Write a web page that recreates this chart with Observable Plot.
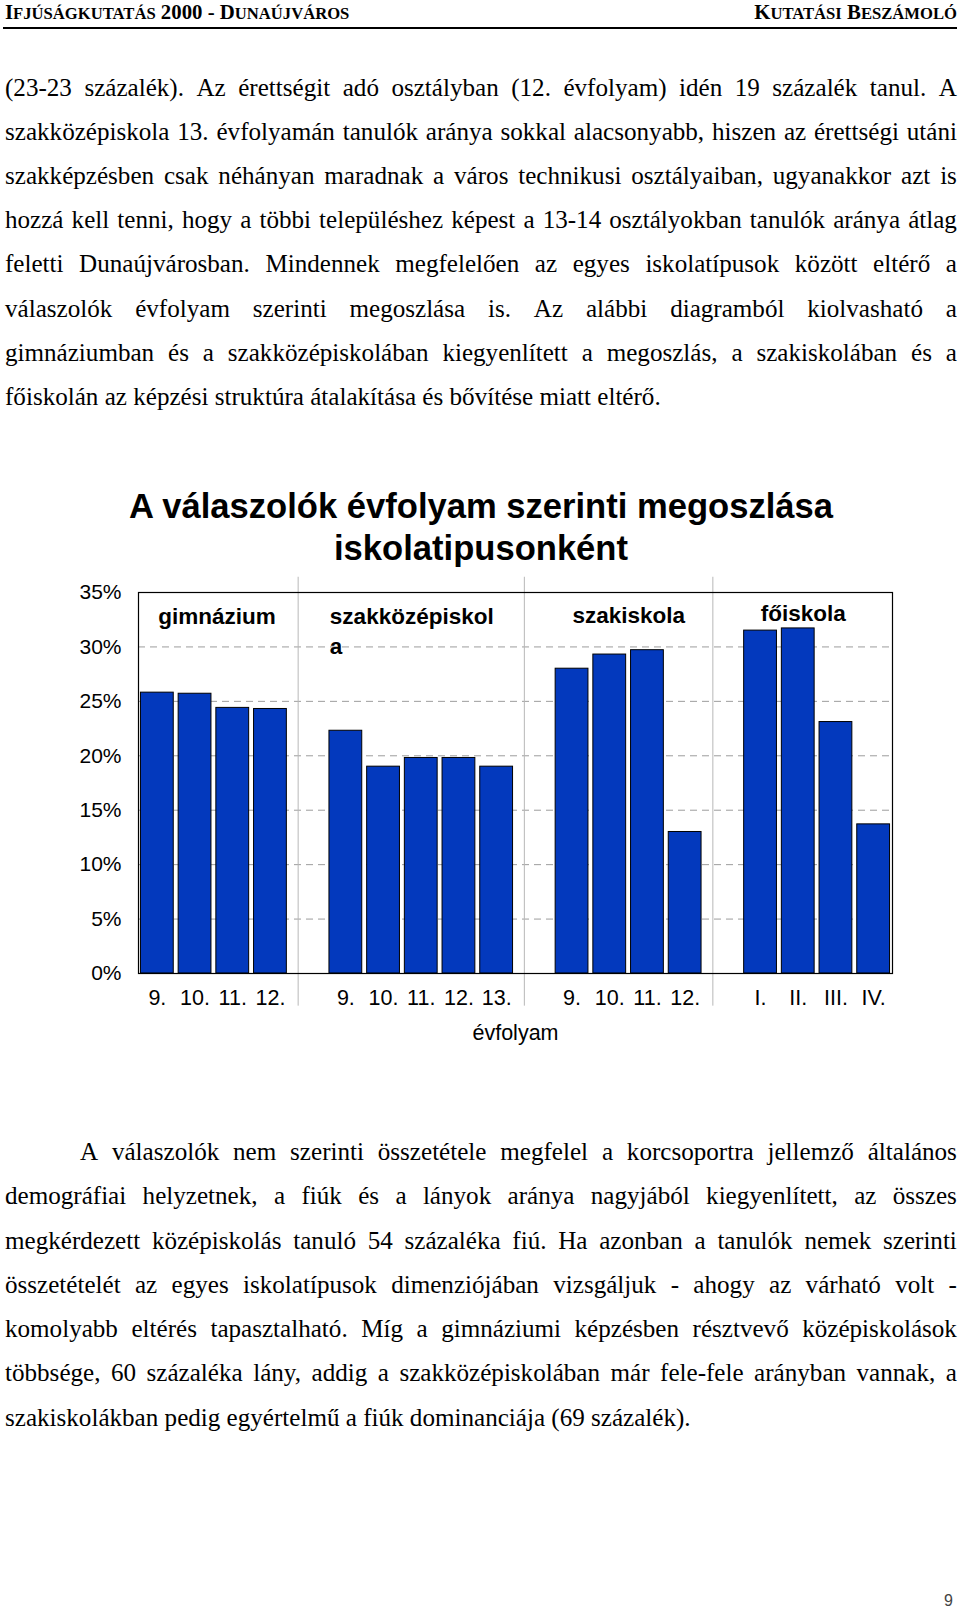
<!DOCTYPE html>
<html lang="hu">
<head>
<meta charset="utf-8">
<script src="https://cdn.jsdelivr.net/npm/d3@7"></script>
<script src="https://cdn.jsdelivr.net/npm/@observablehq/plot@0.6"></script>
<style>
  html, body { margin: 0; padding: 0; background: #fff; }
  #page { position: relative; width: 960px; height: 1613px; overflow: hidden; background: #fff; color: #000; }
  .hdr { position: absolute; top: 2px; font-family: "Liberation Serif", "Times New Roman", serif; font-weight: bold; font-size: 20.8px; line-height: 20px; white-space: nowrap; }
  .sc { font-size: 0.8em; }
  .rule { position: absolute; left: 3px; width: 954px; top: 26.5px; height: 2.5px; background: #000; }
  .ln { position: absolute; height: 44px; line-height: 44px; font-family: "Liberation Serif", "Times New Roman", serif; font-size: 25.1px; white-space: nowrap; }
  .just { display: flex; justify-content: space-between; }
  .title { position: absolute; z-index: 2; left: 0; width: 962px; text-align: center; font-family: "Liberation Sans", Arial, sans-serif; font-weight: bold; font-size: 34.6px; line-height: 41.5px; }
  #chart { position: absolute; z-index: 1; left: 0; top: 560px; }
  .pnum { position: absolute; left: 944px; top: 1592px; font-family: "Liberation Sans", Arial, sans-serif; font-size: 16px; color: #444; }
</style>
</head>
<body>
<div id="page">
  <div class="hdr" style="left:5px">I<span class="sc">FJÚSÁGKUTATÁS</span> 2000 - D<span class="sc">UNAÚJVÁROS</span></div>
  <div class="hdr" style="right:3px">K<span class="sc">UTATÁSI</span> B<span class="sc">ESZÁMOLÓ</span></div>
  <div class="rule"></div>
  <div id="para1"></div>
  <div class="title" style="top:486px">A válaszolók évfolyam szerinti megoszlása<br>iskolatipusonként</div>
  <div id="chart"></div>
  <div id="para2"></div>
  <div class="pnum">9</div>
</div>
<script>
// ---- Chart data ----
const schoolTypes = ["gimnázium", "szakközépiskola", "szakiskola", "főiskola"];
const schoolTypeTitles = ["gimnázium", "szakközépiskol\na", "szakiskola", "főiskola"];
const gimnaziumGrades = ["9.", "10.", "11.", "12."];
const szakkozepGrades = ["9.", "10.", "11.", "12.", "13."];
const szakiskolaGrades = ["9.", "10.", "11.", "12."];
const foiskolaYears = ["I.", "II.", "III.", "IV."];
const gimnaziumValues = [25.8, 25.7, 24.4, 24.3];
const szakkozepValues = [22.3, 19.0, 19.8, 19.8, 19.0];
const szakiskolaValues = [28.0, 29.3, 29.7, 13.0];
const foiskolaValues = [31.5, 31.7, 23.1, 13.7];
const yTicks = [0, 5, 10, 15, 20, 25, 30, 35];
const gridTicks = [5, 10, 15, 20, 25, 30];
const axisTitle = "évfolyam";

// ---- Text data ----
const para1Lines = [
  "(23-23 százalék). Az érettségit adó osztályban (12. évfolyam) idén 19 százalék tanul. A",
  "szakközépiskola 13. évfolyamán tanulók aránya sokkal alacsonyabb, hiszen az érettségi utáni",
  "szakképzésben csak néhányan maradnak a város technikusi osztályaiban, ugyanakkor azt is",
  "hozzá kell tenni, hogy a többi településhez képest a 13-14 osztályokban tanulók aránya átlag",
  "feletti Dunaújvárosban. Mindennek megfelelően az egyes iskolatípusok között eltérő a",
  "válaszolók évfolyam szerinti megoszlása is. Az alábbi diagramból kiolvasható a",
  "gimnáziumban és a szakközépiskolában kiegyenlített a megoszlás, a szakiskolában és a",
  "főiskolán az képzési struktúra átalakítása és bővítése miatt eltérő."
];
const para2Lines = [
  "A válaszolók nem szerinti összetétele megfelel a korcsoportra jellemző általános",
  "demográfiai helyzetnek, a fiúk és a lányok aránya nagyjából kiegyenlített, az összes",
  "megkérdezett középiskolás tanuló 54 százaléka fiú. Ha azonban a tanulók nemek szerinti",
  "összetételét az egyes iskolatípusok dimenziójában vizsgáljuk - ahogy az várható volt -",
  "komolyabb eltérés tapasztalható. Míg a gimnáziumi képzésben résztvevő középiskolások",
  "többsége, 60 százaléka lány, addig a szakközépiskolában már fele-fele arányban vannak, a",
  "szakiskolákban pedig egyértelmű a fiúk dominanciája (69 százalék)."
];

function renderParagraph(container, lines, firstTop, step, indent) {
  lines.forEach((line, i) => {
    const div = document.createElement("div");
    div.className = "ln";
    const left = i === 0 ? indent : 5;
    div.style.left = left + "px";
    div.style.top = (firstTop + i * step) + "px";
    if (i < lines.length - 1) {
      div.classList.add("just");
      div.style.width = (957 - left) + "px";
      line.split(" ").forEach(w => {
        const s = document.createElement("span");
        s.textContent = w;
        div.appendChild(s);
      });
    } else {
      div.textContent = line;
    }
    container.appendChild(div);
  });
}
renderParagraph(document.getElementById("para1"), para1Lines, 65.5, 44.24, 5);
renderParagraph(document.getElementById("para2"), para2Lines, 1130, 44.25, 80);

// ---- Build chart rows ----
const groupGrades = [gimnaziumGrades, szakkozepGrades, szakiskolaGrades, foiskolaYears];
const groupValues = [gimnaziumValues, szakkozepValues, szakiskolaValues, foiskolaValues];
const rows = [];
const domain = [];
const gapKeys = [];
const labelOf = new Map();
schoolTypes.forEach((type, i) => {
  groupGrades[i].forEach((g, j) => {
    const key = type + "|" + g;
    rows.push({key, type, grade: g, value: groupValues[i][j]});
    domain.push(key);
    labelOf.set(key, g);
  });
  if (i < schoolTypes.length - 1) {
    const gk = "gap" + i;
    domain.push(gk);
    gapKeys.push(gk);
  }
});
const keyOf = (i, j) => schoolTypes[i] + "|" + groupGrades[i][j];

const labelFont = {fontSize: 22.5, fontWeight: "bold", fill: "black", frameAnchor: "top"};

const chart = Plot.plot({
  width: 960,
  height: 500,
  marginLeft: 138,
  marginRight: 68,
  marginTop: 32,
  marginBottom: 87,
  style: {fontFamily: "'Liberation Sans', Arial, sans-serif", background: "transparent", color: "black", overflow: "visible"},
  x: {type: "band", domain, paddingInner: 0.13, paddingOuter: 0.065, round: false},
  y: {domain: [0, 35]},
  marks: [
    Plot.ruleY(gridTicks, {stroke: "#9c9c9c", strokeWidth: 1, strokeDasharray: "7,5"}),
    Plot.ruleX(gapKeys, {x: d => d, y1: -3, y2: 36.4, stroke: "#b8b8b8", strokeWidth: 1, dx: -10}),
    Plot.barY(rows, {x: "key", y: "value", fill: "#0339BD", stroke: "black", strokeWidth: 1}),
    Plot.frame({stroke: "black", strokeWidth: 1.2}),
    Plot.axisY({ticks: yTicks, tickFormat: d => d + "%", tickSize: 0, tickPadding: 17, fontSize: 21, label: null}),
    Plot.axisX({tickFormat: k => labelOf.get(k) ?? "", tickSize: 0, tickPadding: 16, fontSize: 21.5, label: null}),
    Plot.text([axisTitle], {text: d => d, frameAnchor: "bottom", dy: 66, fontSize: 21.5, fill: "black"}),
    Plot.text([schoolTypeTitles[0]], {x: () => keyOf(0, 1), text: d => d, dx: 22, dy: 15.5, ...labelFont}),
    Plot.text([schoolTypeTitles[1]], {x: () => keyOf(1, 0), text: d => d, dx: -16, dy: 10, textAnchor: "start", lineHeight: 1.33, ...labelFont}),
    Plot.text([schoolTypeTitles[2]], {x: () => keyOf(2, 1), text: d => d, dx: 19, dy: 15, ...labelFont}),
    Plot.text([schoolTypeTitles[3]], {x: () => keyOf(3, 1), text: d => d, dx: 5, dy: 13, ...labelFont})
  ]
});
document.getElementById("chart").appendChild(chart);
</script>
</body>
</html>
